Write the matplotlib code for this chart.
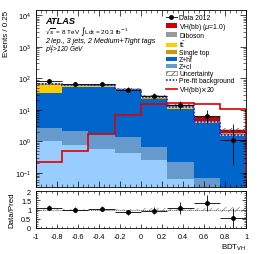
import numpy as np
import matplotlib
matplotlib.use('Agg')
import matplotlib.pyplot as plt
from matplotlib.patches import Patch
from matplotlib.lines import Line2D

plt.rcParams['font.family'] = ['Liberation Sans', 'DejaVu Sans']
plt.rcParams['hatch.linewidth'] = 0.5

# binning of BDT_VH
edges = np.linspace(-1, 1, 9)
centers = 0.5 * (edges[1:] + edges[:-1])

# stacked backgrounds (bottom -> top)
z_l = [1.0, 0.76, 0.58, 0.41, 0.25, 0.064, 0.02, 0.01]
z_cl = [1.57, 1.39, 1.10, 0.97, 0.42, 0.146, 0.047, 0.02]
z_hf = [30.4, 51.8, 50.3, 37.6, 21.9, 10.6, 3.6, 1.42]
single_top = [1.0, 0.8, 0.6, 0.5, 0.3, 0.1, 0.05, 0.02]
ttbar = [30.0, 6.0, 6.0, 4.0, 2.5, 1.0, 0.3, 0.1]
diboson = [3.0, 2.5, 2.5, 1.5, 1.2, 1.0, 0.5, 0.2]
vh = [0.02, 0.05, 0.1, 0.3, 0.8, 1.2, 1.2, 0.5]

prefit_bkg = [66, 62, 60, 42, 25, 12.5, 4.0, 1.6]
vh_x20 = [0.22, 0.47, 1.68, 7.0, 15.6, 17.0, 15.0, 10.2]
unc_frac = [0.05, 0.04, 0.04, 0.05, 0.06, 0.07, 0.10, 0.12]

data = [80, 68, 68, 44, 28, 14.5, 6.4, 1.07]
data_lo = [8.5, 8, 8, 6.5, 5, 3.6, 2.5, 0.9]
data_hi = [9.5, 9, 9, 7.5, 6, 4.5, 3.4, 2.4]

ratio = [1.1, 1.0, 1.05, 0.85, 0.93, 1.08, 1.35, 0.55]
ratio_err = [0.12, 0.12, 0.12, 0.15, 0.2, 0.3, 0.42, 0.55]

components = [
    (z_l, '#99ccff', None),
    (z_cl, '#6699cc', 'Z+cl'),
    (z_hf, '#0066cc', 'Z+hf'),
    (single_top, '#cc9900', 'Single top'),
    (ttbar, '#ffcc00', r't$\bar{\rm t}$'),
    (diboson, '#999999', 'Diboson'),
    (vh, '#cc0000', r'VH(bb) ($\mu$=1.0)'),
]

fig = plt.figure(figsize=(2.66, 2.55), dpi=100)
ax = fig.add_axes([0.135, 0.263, 0.79, 0.694])
rax = fig.add_axes([0.135, 0.102, 0.79, 0.145])

fs = 5.2
bottom = np.zeros(8)
for vals, col, lab in components:
    top = bottom + np.array(vals)
    ax.stairs(top, edges, baseline=bottom, fill=True, color=col, lw=0)
    bottom = top
total = bottom

# thin outline of stack
ax.stairs(total, edges, color='black', lw=0.3)

unc = total * np.array(unc_frac)
ax.bar(centers, 2 * unc, bottom=total - unc, width=0.25, fill=False,
       hatch='/////', edgecolor='#555555', linewidth=0)
ax.stairs(prefit_bkg, edges, color='#1a1aff', lw=1.2, ls=(0, (1, 1)))
ax.stairs(vh_x20, edges, color='#dd0000', lw=1.2)

ax.errorbar(centers, data, yerr=[data_lo, data_hi], xerr=0.125, fmt='o',
            color='black', ms=2.5, lw=0.6, capsize=0)

ax.set_yscale('log')
ax.set_xlim(-1, 1)
ax.set_ylim(0.035, 1.5e4)
ax.set_xticklabels([])
ax.set_ylabel('Events / 0.25', fontsize=fs + 0.5, loc='top')
ax.tick_params(which='both', direction='in', top=True, right=True, labelsize=fs)
ax.tick_params(which='major', length=4, width=0.5)
ax.tick_params(which='minor', length=2, width=0.4)
ax.minorticks_on()
ax.set_xticks(np.arange(-1, 1.01, 0.2))
ax.set_xticks(np.arange(-1, 1.01, 0.05), minor=True)

ax.text(0.045, 0.938, 'ATLAS', transform=ax.transAxes, fontsize=fs + 1.5,
        fontweight='bold', style='italic', va='center')
ax.text(0.045, 0.882, r'$\sqrt{s}$ = 8 TeV $\int$Ldt = 20.3 fb$^{-1}$',
        transform=ax.transAxes, fontsize=fs - 0.6, va='center')
ax.text(0.045, 0.830, '2 lep., 3 jets, 2 Medium+Tight tags',
        transform=ax.transAxes, fontsize=fs, style='italic', va='center')
ax.text(0.045, 0.778, r'$p_{T}^{V}$>120 GeV', transform=ax.transAxes,
        fontsize=fs - 0.5, style='italic', va='center')

handles = [Line2D([], [], color='black', marker='o', ms=2.5, lw=0.6)]
labels = ['Data 2012']
for vals, col, lab in reversed(components):
    if lab:
        handles.append(Patch(facecolor=col, edgecolor='none'))
        labels.append(lab)
handles.append(Patch(facecolor='white', edgecolor='#555555', hatch='/////', lw=0.4))
labels.append('Uncertainty')
handles.append(Line2D([], [], color='#1a1aff', lw=1.2, ls=(0, (1, 1))))
labels.append('Pre-fit background')
handles.append(Line2D([], [], color='#dd0000', lw=1.2))
labels.append(r'VH(bb)$\times$20')
ax.legend(handles, labels, loc='upper right', bbox_to_anchor=(0.965, 1.0),
          fontsize=fs - 0.3, frameon=False, handlelength=1.6, handleheight=0.6,
          labelspacing=0.0, handletextpad=0.4, borderpad=0.1)

# ratio panel
rax.bar(centers, 2 * np.array(unc_frac), bottom=1 - np.array(unc_frac),
        width=0.25, fill=False, hatch='/////', edgecolor='#888888', linewidth=0)
rax.axhline(1, color='#555555', lw=0.5, ls=(0, (2, 1)))
rax.errorbar(centers, ratio, yerr=ratio_err, xerr=0.125, fmt='o',
             color='black', ms=2.5, lw=0.6, capsize=0)
rax.set_xlim(-1, 1)
rax.set_ylim(0, 2)
rax.set_yticks([0, 0.5, 1, 1.5, 2])
rax.set_yticklabels(['0', '0.5', '1', '1.5', '2'])
rax.set_xticks(np.arange(-1, 1.01, 0.2))
rax.set_xticklabels(['-1', '-0.8', '-0.6', '-0.4', '-0.2', '0', '0.2',
                     '0.4', '0.6', '0.8', '1'])
rax.set_xticks(np.arange(-1, 1.01, 0.05), minor=True)
rax.set_yticks(np.arange(0, 2.01, 0.1), minor=True)
rax.tick_params(which='both', direction='in', top=True, right=True, labelsize=fs)
rax.tick_params(which='major', length=3, width=0.5)
rax.tick_params(which='minor', length=1.5, width=0.4)
rax.set_ylabel('Data/Pred', fontsize=fs + 0.5)
rax.set_xlabel(r'BDT$_{\rm VH}$', fontsize=fs + 0.5, ha='right')
rax.xaxis.set_label_coords(1.0, -0.36)
for a in (ax, rax):
    for s in a.spines.values():
        s.set_linewidth(0.6)

fig.savefig('out.png', dpi=100)
